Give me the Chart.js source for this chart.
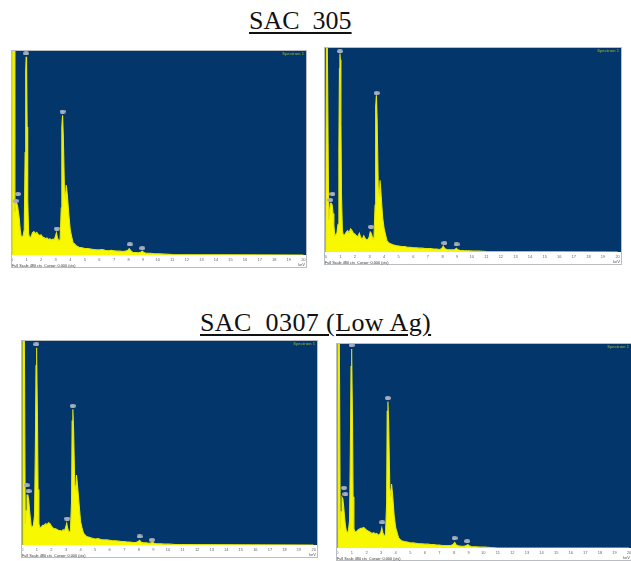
<!DOCTYPE html>
<html>
<head>
<meta charset="utf-8">
<title>SAC spectra</title>
<script src="https://cdn.jsdelivr.net/npm/chart.js@4"></script>
<style>
html, body { margin: 0; padding: 0; background: #fff; }
body { width: 631px; height: 561px; position: relative; overflow: hidden; }
.title { position: absolute; font-family: "Liberation Serif", serif; font-size: 26px; color: #111; text-decoration: underline; text-decoration-thickness: 1.5px; text-underline-offset: 3px; white-space: pre; line-height: 30px; }
.panel { position: absolute; height: 219px; filter: blur(0.55px); }
</style>
</head>
<body>
<div class="title" id="title1" style="left:249px;top:6px"></div>
<div class="title" id="title2" style="left:200px;top:308px;letter-spacing:0.4px"></div>
<div class="panel" style="left:11px;top:50px;width:296px"><canvas id="chartA"></canvas></div>
<div class="panel" style="left:324px;top:47px;width:298px"><canvas id="chartB"></canvas></div>
<div class="panel" style="left:21px;top:340px;width:297px"><canvas id="chartC"></canvas></div>
<div class="panel" style="left:336px;top:343px;width:296px"><canvas id="chartD"></canvas></div>
<script>
const titles = ['SAC  305', 'SAC  0307 (Low Ag)'];
const tickLabels = ['0','1','2','3','4','5','6','7','8','9','10','11','12','13','14','15','16','17','18','19','20'];

// energy in keV, same channels for all four spectra
const energy = [
    0, 0.04, 0.07, 0.11, 0.14, 0.2, 0.26, 0.32, 0.38, 0.44, 0.5, 0.56, 0.62, 0.68, 0.76, 0.84, 0.9, 0.94, 0.97, 1.0, 1.04, 1.08, 1.14, 1.2,
    1.3, 1.4, 1.5, 1.6, 1.7, 1.8, 1.9, 2.0, 2.1, 2.2, 2.3, 2.4, 2.5, 2.6, 2.7, 2.8, 2.9, 2.98, 3.05, 3.12, 3.2, 3.3,
    3.38, 3.42, 3.47, 3.52, 3.6, 3.68, 3.72, 3.8, 3.9, 4.0, 4.1, 4.2, 4.3, 4.4,
    4.6, 4.8, 5, 5.2, 5.4, 5.6, 5.8, 6, 6.2, 6.4, 6.6, 6.8, 7, 7.2, 7.4, 7.6, 7.8,
    7.95, 8.05, 8.15, 8.3, 8.5, 8.7, 8.85, 8.95, 9.05, 9.2, 9.5, 9.8, 10.1, 10.5, 11, 20
];

const countsA = [
    0, 480, 480, 480, 480, 100, 121, 121, 115, 100, 85, 60, 45, 42, 44, 60, 240, 430, 464, 440, 300, 130, 50, 42,
    42, 52, 55, 50, 53, 48, 46, 47, 42, 41, 38, 40, 36, 38, 35, 37, 36, 44, 52, 40, 34, 36,
    110, 300, 327, 280, 150, 135, 164, 140, 95, 58, 42, 28, 26, 22,
    18, 17, 15, 15, 14, 13, 12, 12, 13, 11, 10, 11, 10, 9, 9, 8, 9,
    11, 15, 10, 6, 6, 5, 7, 9, 6, 4, 4, 3, 3, 2, 1, 0
];
const countsB = [
    0, 480, 480, 480, 480, 75, 95, 114, 114, 110, 90, 62, 38, 40, 44, 65, 240, 430, 465, 450, 300, 130, 50, 40,
    40, 46, 50, 45, 54, 50, 44, 42, 38, 36, 44, 34, 30, 38, 32, 28, 30, 36, 47, 44, 34, 30,
    110, 340, 367, 310, 150, 130, 168, 130, 80, 55, 40, 26, 22, 20,
    17, 15, 14, 13, 13, 11, 11, 10, 10, 9, 9, 8, 8, 8, 7, 7, 6,
    8, 14, 8, 6, 5, 5, 6, 9, 5, 4, 3, 3, 2, 2, 1, 0
];
const countsC = [
    0, 480, 480, 480, 480, 50, 80, 117, 117, 105, 80, 60, 42, 42, 46, 70, 240, 420, 462, 440, 300, 130, 50, 40,
    42, 46, 46, 50, 48, 52, 50, 44, 40, 38, 38, 36, 34, 34, 32, 36, 34, 42, 51, 38, 30, 32,
    100, 290, 318, 270, 140, 130, 164, 135, 95, 55, 40, 28, 24, 20,
    18, 16, 14, 15, 13, 12, 12, 11, 10, 10, 9, 8, 8, 7, 7, 6, 6,
    8, 11, 7, 5, 5, 4, 5, 6, 4, 3, 3, 2, 2, 1, 1, 0
];
const countsD = [
    0, 480, 480, 480, 480, 45, 85, 119, 115, 95, 70, 52, 40, 36, 40, 65, 250, 425, 466, 450, 300, 120, 45, 38,
    38, 42, 44, 46, 46, 48, 45, 42, 40, 38, 36, 34, 36, 33, 34, 30, 32, 36, 47, 36, 30, 30,
    105, 320, 343, 290, 140, 120, 150, 120, 75, 48, 36, 24, 20, 17,
    15, 14, 12, 12, 11, 10, 10, 9, 9, 8, 8, 7, 7, 6, 6, 6, 6,
    9, 13, 7, 5, 4, 4, 6, 8, 5, 3, 3, 2, 2, 1, 0, 0
];

// element markers sitting over the peaks (keV, cts)
const markerEnergyA = [0.25, 0.41, 0.96, 3.47, 3.08, 8.09, 8.94];
const markerCountsA = [127, 143, 472, 336, 62, 25, 16];
const markerEnergyB = [0.3, 0.46, 0.97, 3.49, 3.1, 8.13, 8.96];
const markerCountsB = [122, 136, 470, 372, 59, 21, 18];
const markerEnergyC = [0.3, 0.43, 0.96, 3.46, 3.08, 8.05, 8.9];
const markerCountsC = [140, 126, 470, 326, 62, 20, 12];
const markerEnergyD = [0.45, 0.55, 0.98, 3.46, 3.08, 8.04, 8.9];
const markerCountsD = [141, 126, 475, 351, 60, 23, 16];

const FULL_SCALE = 480;

// grey oval used for the peak labels
const oval = document.createElement('canvas');
oval.width = 6;
oval.height = 4;
const ovalCtx = oval.getContext('2d');
ovalCtx.fillStyle = '#a9aebf';
ovalCtx.beginPath();
ovalCtx.ellipse(3, 2, 3, 2, 0, 0, Math.PI * 2);
ovalCtx.fill();

const panelBack = {
    id: 'panelBack',
    beforeDraw(chart) {
        const { ctx, chartArea: a, width, height } = chart;
        ctx.save();
        ctx.fillStyle = '#fff';
        ctx.fillRect(0, 0, width, height);
        ctx.fillStyle = '#03366a';
        ctx.fillRect(a.left, a.top, a.right - a.left, a.bottom - a.top);
        ctx.restore();
    },
    afterDraw(chart) {
        const { ctx, chartArea: a, width } = chart;
        ctx.save();
        // grey frame round the plot and tick strip
        ctx.strokeStyle = '#b9bcc0';
        ctx.strokeRect(0.5, 0.5, width - 1, a.bottom + 12);
        ctx.font = 'bold 4px "Liberation Sans", sans-serif';
        ctx.fillStyle = '#7d9a3c';
        ctx.textAlign = 'right';
        ctx.fillText('Spectrum 1', a.right - 3, a.top + 5);
        ctx.font = '4px "Liberation Sans", sans-serif';
        ctx.fillStyle = '#555';
        ctx.fillText('keV', width - 2, a.bottom + 11);
        ctx.textAlign = 'left';
        ctx.font = '3.8px "Liberation Sans", sans-serif';
        ctx.fillStyle = '#333';
        ctx.fillText('Full Scale 480 cts  Cursor: 0.000 (cts)', 1, a.bottom + 12);
        ctx.restore();
    }
};

function makeSpectrum(id, counts, markerX, markerY, minKev, maxKev) {
    const line = energy.map((e, i) => ({ x: e, y: counts[i] }));
    const marks = markerX.map((e, i) => ({ x: e, y: markerY[i] }));
    return new Chart(document.getElementById(id), {
        type: 'line',
        data: {
            datasets: [
                { data: marks, showLine: false, pointStyle: oval, pointRadius: 3 },
                { data: line, borderColor: '#e6e60c', backgroundColor: '#f8f800', borderWidth: 1.1, pointRadius: 0, fill: 'origin', tension: 0 }
            ]
        },
        options: {
            responsive: true,
            maintainAspectRatio: false,
            animation: false,
            layout: { autoPadding: false, padding: { bottom: 3 } },
            plugins: { legend: { display: false }, tooltip: { enabled: false } },
            scales: {
                x: {
                    type: 'linear', min: minKev, max: maxKev,
                    grid: { display: false, drawTicks: false },
                    border: { display: false },
                    afterBuildTicks: axis => { axis.ticks = tickLabels.map(t => ({ value: +t })); },
                    ticks: { autoSkip: false, maxRotation: 0, padding: 2, color: '#666', font: { size: 4 }, callback: v => String(v) },
                    afterFit: axis => { axis.height = 11; axis.paddingLeft = 0; axis.paddingRight = 0; }
                },
                y: { display: false, min: 0, max: FULL_SCALE }
            }
        },
        plugins: [panelBack]
    });
}

document.getElementById('title1').textContent = titles[0];
document.getElementById('title2').textContent = titles[1];
makeSpectrum('chartA', countsA, markerEnergyA, markerCountsA, -0.07, 20.25);
makeSpectrum('chartB', countsB, markerEnergyB, markerCountsB, -0.12, 20.3);
makeSpectrum('chartC', countsC, markerEnergyC, markerCountsC, -0.09, 20.3);
makeSpectrum('chartD', countsD, markerEnergyD, markerCountsD, -0.09, 20.2);
</script>
</body>
</html>
